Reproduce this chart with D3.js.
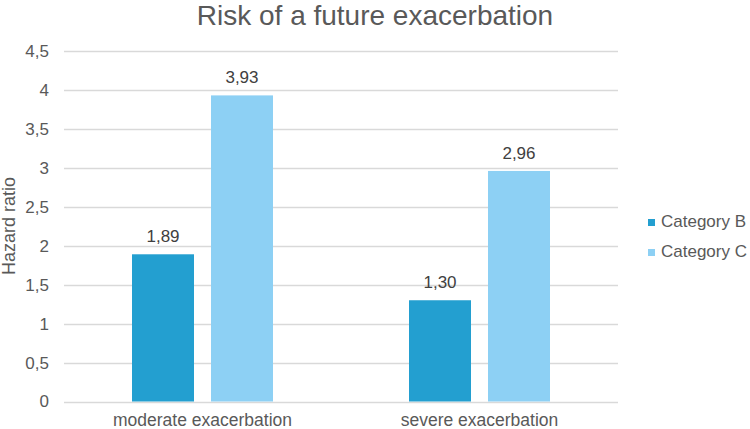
<!DOCTYPE html>
<html>
<head>
<meta charset="utf-8">
<script src="https://cdn.jsdelivr.net/npm/d3@7"></script>
<style>
  html, body { margin: 0; padding: 0; background: #fff; }
  svg { display: block; font-family: "Liberation Sans", Arial, sans-serif; }
</style>
</head>
<body>
<svg id="chart" width="750" height="429"></svg>
<script>
const categories = ["moderate exacerbation", "severe exacerbation"];
const seriesNames = ["Category B", "Category C"];
const categoryB = [1.89, 1.30];
const categoryC = [3.93, 2.96];
const yTicks = [0, 0.5, 1, 1.5, 2, 2.5, 3, 3.5, 4, 4.5];
const title = "Risk of a future exacerbation";
const yTitle = "Hazard ratio";

const colors = {"Category B": "#239fd0", "Category C": "#8dd0f4"};
const textColor = "#595959";

const svg = d3.select("#chart");
const fmt = v => d3.format("~g")(v).replace(".", ",");
const fmt2 = v => d3.format(".2f")(v).replace(".", ",");

const x0 = d3.scaleBand().domain(categories).range([64, 618]).paddingInner(0).paddingOuter(0);
const x1 = d3.scaleBand().domain(seriesNames).range([0, x0.bandwidth()]).paddingInner(17/79).paddingOuter(0.861);
const y = d3.scaleLinear().domain([0, 4.5]).range([401.5, 51]);

const data = categories.map((c, i) => ({cat: c, values: [
  {s: "Category B", v: categoryB[i]},
  {s: "Category C", v: categoryC[i]}
]}));

// gridlines
svg.append("g").selectAll("line").data(yTicks).join("line")
  .attr("x1", 64).attr("x2", 618)
  .attr("y1", d => Math.round(y(d)) + 0.5).attr("y2", d => Math.round(y(d)) + 0.5)
  .attr("stroke", "#d9d9d9").attr("stroke-width", 1.3);

// y tick labels via axis
const yAxis = d3.axisLeft(y).tickValues(yTicks).tickFormat(fmt).tickSize(0).tickPadding(0);
const ga = svg.append("g").attr("transform", "translate(49,0)").call(yAxis);
ga.select(".domain").remove();
ga.selectAll("text").attr("fill", textColor).style("font-size", "17px")
  .style("font-family", '"Liberation Sans", Arial, sans-serif');

// bars
const groups = svg.append("g").selectAll("g").data(data).join("g")
  .attr("transform", d => `translate(${x0(d.cat)},0)`);
groups.selectAll("rect").data(d => d.values).join("rect")
  .attr("x", d => x1(d.s)).attr("width", x1.bandwidth())
  .attr("y", d => y(d.v)).attr("height", d => y(0) - y(d.v))
  .attr("fill", d => colors[d.s]);
groups.selectAll("text").data(d => d.values).join("text")
  .attr("x", d => x1(d.s) + x1.bandwidth() / 2)
  .attr("y", d => y(d.v) - 12)
  .attr("text-anchor", "middle").attr("fill", "#404040")
  .style("font-size", "17px").text(d => fmt2(d.v));

// category labels
svg.append("g").selectAll("text").data(categories).join("text")
  .attr("x", d => x0(d) + x0.bandwidth() / 2).attr("y", 426)
  .attr("text-anchor", "middle").attr("fill", textColor)
  .style("font-size", "17.5px").text(d => d);

// title
svg.append("text").attr("x", 375).attr("y", 25).attr("text-anchor", "middle")
  .attr("fill", textColor).style("font-size", "28px").text(title);

// y title
svg.append("text").attr("transform", "translate(15,226) rotate(-90)")
  .attr("text-anchor", "middle").attr("fill", textColor)
  .style("font-size", "18px").text(yTitle);

// legend
const lg = svg.append("g").selectAll("g").data(seriesNames).join("g")
  .attr("transform", (d, i) => `translate(648,${219 + i * 30})`);
lg.append("rect").attr("width", 7).attr("height", 7).attr("fill", d => colors[d]);
lg.append("text").attr("x", 13).attr("y", 8).attr("fill", textColor)
  .style("font-size", "17px").text(d => d);
</script>
</body>
</html>
